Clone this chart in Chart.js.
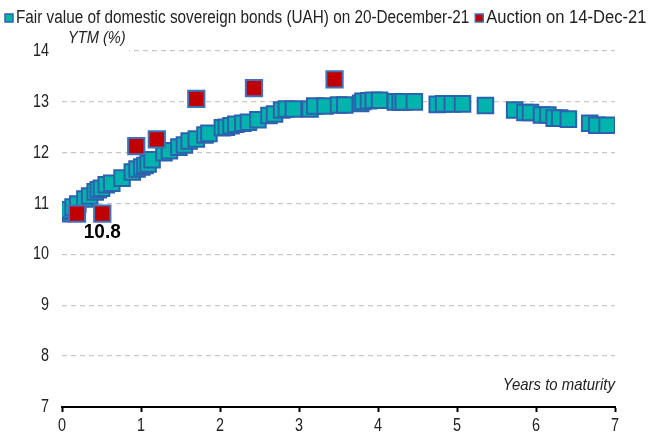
<!DOCTYPE html>
<html lang="en">
<head>
    <meta charset="UTF-8">
    <title>UAH sovereign bond yield curve</title>
    <style>
        html, body { margin: 0; padding: 0; background: #fff; }
        #wrap { width: 650px; height: 437px; }
    </style>
</head>
<body>
    <div id="wrap"><canvas id="curve"></canvas></div>
    <script src="https://cdn.jsdelivr.net/npm/chart.js"></script>
    <script>
        // Fair value of domestic sovereign bonds, 20-December-21
        const fairYears = [0.00, 0.04, 0.09, 0.14, 0.20, 0.29, 0.35, 0.42, 0.46, 0.50,
            0.56, 0.63, 0.76, 0.89, 0.95, 1.01, 1.05, 1.09, 1.14, 1.29,
            1.36, 1.48, 1.55, 1.61, 1.70, 1.81, 1.86, 2.03, 2.08, 2.14,
            2.20, 2.29, 2.36, 2.48, 2.62, 2.69, 2.78, 2.84, 2.93, 3.14,
            3.20, 3.33, 3.50, 3.58, 3.78, 3.81, 3.88, 3.94, 4.02, 4.22,
            4.28, 4.32, 4.46, 4.75, 4.83, 4.94, 5.07, 5.36, 5.73, 5.86,
            5.93, 6.07, 6.15, 6.23, 6.30, 6.41, 6.68, 6.77, 6.90];
        const fairYtm = [10.80, 10.85, 10.88, 10.93, 10.99, 11.09, 11.15, 11.23, 11.27, 11.30,
            11.37, 11.40, 11.50, 11.62, 11.68, 11.72, 11.75, 11.78, 11.86, 12.00,
            12.04, 12.11, 12.15, 12.23, 12.27, 12.35, 12.38, 12.49, 12.50, 12.53,
            12.56, 12.58, 12.60, 12.65, 12.73, 12.76, 12.84, 12.86, 12.86, 12.86,
            12.92, 12.92, 12.94, 12.94, 12.97, 13.01, 13.02, 13.03, 13.03, 13.00,
            13.00, 13.00, 13.00, 12.95, 12.96, 12.96, 12.96, 12.93, 12.84, 12.79,
            12.79, 12.74, 12.74, 12.68, 12.68, 12.66, 12.58, 12.54, 12.54];

        // Auction on 14-Dec-21
        const auctionYears = [0.19, 0.51, 0.94, 1.20, 1.70, 2.43, 3.45];
        const auctionYtm = [10.80, 10.80, 12.13, 12.26, 13.06, 13.27, 13.44];

        const yTicks = [7, 8, 9, 10, 11, 12, 13, 14];
        const xTicks = [0, 1, 2, 3, 4, 5, 6, 7];
        const labelledAuction = 1; // the "10.8" point

        const fairLabel = 'Fair value of domestic sovereign bonds (UAH) on 20-December-21';
        const auctionLabel = 'Auction on 14-Dec-21';

        const teal = '#00b4ae', tealEdge = '#2c62ad';
        const red = '#c00000', redEdge = '#3f72b8';

        // the original uses a narrow face; squeeze a regular one to match
        const face = "'Liberation Sans', Arial, sans-serif";
        const squeeze = 0.8;

        function toPoints(xs, ys) {
            return xs.map((x, i) => ({ x: x, y: ys[i] }));
        }

        function narrowText(ctx, text, x, y, align, font, sx) {
            ctx.save();
            ctx.font = font;
            ctx.textAlign = align;
            ctx.translate(x, y);
            ctx.scale(sx || squeeze, 1);
            ctx.fillText(text, 0, 0);
            const w = ctx.measureText(text).width * (sx || squeeze);
            ctx.restore();
            return w;
        }

        function legendBox(ctx, x, y, fill, edge) {
            ctx.fillStyle = fill;
            ctx.fillRect(x, y, 8, 8);
            ctx.strokeStyle = edge;
            ctx.lineWidth = 1.5;
            ctx.strokeRect(x, y, 8, 8);
        }

        const annotations = {
            id: 'annotations',
            beforeDatasetsDraw(chart) {
                // white patch where the YTM caption sits over the top grid line
                const { ctx, chartArea } = chart;
                ctx.save();
                ctx.fillStyle = '#fff';
                ctx.fillRect(chartArea.left - 1, chartArea.top - 20, 68, 24);
                ctx.restore();
            },
            afterDraw(chart) {
                const { ctx, chartArea, scales } = chart;
                ctx.save();
                ctx.textBaseline = 'middle';
                ctx.fillStyle = '#222';

                // tick labels
                const tickFont = '18px ' + face;
                yTicks.forEach(v => {
                    narrowText(ctx, String(v), chartArea.left - 13, scales.y.getPixelForValue(v), 'right', tickFont);
                });
                xTicks.forEach(v => {
                    narrowText(ctx, String(v), scales.x.getPixelForValue(v), chartArea.bottom + 19, 'center', tickFont);
                });

                // axis captions
                const capFont = 'italic 17px ' + face;
                narrowText(ctx, 'YTM (%)', chartArea.left + 6, chartArea.top - 13, 'left', capFont, 0.86);
                narrowText(ctx, 'Years to maturity', chartArea.right, chartArea.bottom - 22, 'right', capFont, 0.88);

                // legend
                const legFont = '18px ' + face;
                legendBox(ctx, 5, 14, teal, tealEdge);
                ctx.fillStyle = '#222';
                const w1 = narrowText(ctx, fairLabel, 16, 18.5, 'left', legFont, 0.85);
                const x2 = 16 + w1 + 6;
                legendBox(ctx, x2, 14, red, redEdge);
                ctx.fillStyle = '#222';
                narrowText(ctx, auctionLabel, x2 + 11, 18.5, 'left', legFont, 0.92);

                // data label under the short auction point
                const px = scales.x.getPixelForValue(auctionYears[labelledAuction]);
                const py = scales.y.getPixelForValue(auctionYtm[labelledAuction]);
                ctx.fillStyle = '#000';
                narrowText(ctx, String(auctionYtm[labelledAuction]), px, py + 19, 'center', 'bold 20px ' + face, 0.95);
                ctx.restore();
            }
        };

        new Chart(document.getElementById('curve'), {
            type: 'scatter',
            data: {
                datasets: [{
                    label: fairLabel,
                    data: toPoints(fairYears, fairYtm),
                    pointStyle: 'rect',
                    pointRadius: 11,
                    pointHoverRadius: 11,
                    backgroundColor: teal,
                    borderColor: tealEdge,
                    borderWidth: 2,
                    order: 2
                }, {
                    label: auctionLabel,
                    data: toPoints(auctionYears, auctionYtm),
                    pointStyle: 'rect',
                    pointRadius: 11.5,
                    pointHoverRadius: 11.5,
                    backgroundColor: red,
                    borderColor: redEdge,
                    borderWidth: 2,
                    order: 1
                }]
            },
            options: {
                responsive: true,
                maintainAspectRatio: false,
                animation: false,
                events: [],
                layout: { padding: { top: 51, right: 35, left: 0, bottom: 0 } },
                plugins: {
                    tooltip: { enabled: false },
                    legend: { display: false }
                },
                scales: {
                    x: {
                        type: 'linear',
                        min: 0,
                        max: 7,
                        afterBuildTicks(scale) {
                            scale.ticks = xTicks.map(v => ({ value: v }));
                        },
                        afterFit(scale) { scale.height = 30; },
                        grid: {
                            drawOnChartArea: false,
                            drawTicks: true,
                            tickLength: 5,
                            tickWidth: 2,
                            tickColor: '#000'
                        },
                        border: { display: true, color: '#000', width: 2 },
                        ticks: { display: false }
                    },
                    y: {
                        type: 'linear',
                        min: 7,
                        max: 14,
                        afterBuildTicks(scale) {
                            scale.ticks = yTicks.map(v => ({ value: v }));
                        },
                        afterFit(scale) { scale.width = 62; },
                        grid: {
                            color: '#c8c8c8',
                            lineWidth: 1.3,
                            drawTicks: false
                        },
                        border: { display: false, dash: [5, 4] },
                        ticks: { display: false }
                    }
                }
            },
            plugins: [annotations]
        });
    </script>
</body>
</html>
